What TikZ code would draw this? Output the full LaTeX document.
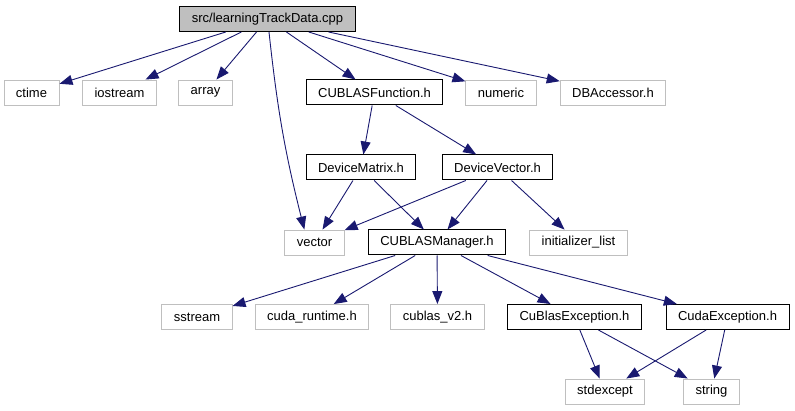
\documentclass[tikz,border=0pt]{standalone}
\usepackage{fontspec}
\setmainfont{Liberation Sans}
\usetikzlibrary{arrows.meta}
\definecolor{edgeblue}{HTML}{191970}
\definecolor{stdgray}{HTML}{BFBFBF}
\begin{document}
\begin{tikzpicture}[
    x=1pt,y=-1pt,
    box/.style={draw,line width=1pt,inner xsep=12pt,inner ysep=0pt,minimum height=25pt,font=\fontsize{13}{15}\selectfont},
    sysbox/.style={box,draw=stdgray,line width=0.9pt},
    arr/.style={-{Triangle[length=13pt,width=10pt]},draw=edgeblue,line width=0.9pt}
]
\useasboundingbox (0,0) rectangle (795,411);
\node[box,fill=stdgray] (src) at (267.5,19) {src/learningTrackData.cpp};
\node[sysbox] (ctime) at (31.5,92.5) {ctime};
\node[sysbox] (iostream) at (119.5,92.5) {iostream};
\node[sysbox] (array) at (205.5,92.5) {array};
\node[box] (func) at (374.5,92.5) {CUBLASFunction.h};
\node[sysbox] (numeric) at (501,92.5) {numeric};
\node[sysbox] (dbacc) at (613,92.5) {DBAccessor.h};
\node[box] (devmat) at (361,167.5) {DeviceMatrix.h};
\node[box] (devvec) at (497.5,167.5) {DeviceVector.h};
\node[sysbox] (vector) at (314.5,242.5) {vector};
\node[box] (manager) at (437,242.5) {CUBLASManager.h};
\node[sysbox] (initlist) at (578.5,242.5) {initializer\_list};
\node[sysbox] (sstream) at (197,317) {sstream};
\node[sysbox] (cudart) at (312,317) {cuda\_runtime.h};
\node[sysbox] (cublas) at (437.5,317) {cublas\_v2.h};
\node[box] (cublasexc) at (574.5,317) {CuBlasException.h};
\node[box] (cudaexc) at (727.5,317) {CudaException.h};
\node[sysbox] (stdexcept) at (605,391.5) {stdexcept};
\node[sysbox] (string) at (711.5,391.5) {string};
\draw[arr] (src) -- (ctime);
\draw[arr] (src) -- (iostream);
\draw[arr] (src) -- (array);
\draw[arr] (src) -- (func);
\draw[arr] (src) -- (numeric);
\draw[arr] (src) -- (dbacc);
\draw[arr] ([xshift=1.5pt]src.south) to[bend right=4] ([xshift=20pt]vector.north west);
\draw[arr] (func) -- (devmat);
\draw[arr] (func) -- (devvec);
\draw[arr] (devmat) -- (vector);
\draw[arr] (devmat) -- (manager);
\draw[arr] (devvec) -- (vector);
\draw[arr] (devvec) -- (manager);
\draw[arr] (devvec) -- (initlist);
\draw[arr] (manager) -- (sstream);
\draw[arr] (manager) -- (cudart);
\draw[arr] (manager) -- (cublas);
\draw[arr] (manager) -- (cublasexc);
\draw[arr] (manager) -- (cudaexc);
\draw[arr] (cublasexc) -- (stdexcept);
\draw[arr] (cublasexc) -- (string);
\draw[arr] (cudaexc) -- (stdexcept);
\draw[arr] (cudaexc) -- (string);
\end{tikzpicture}
\end{document}
